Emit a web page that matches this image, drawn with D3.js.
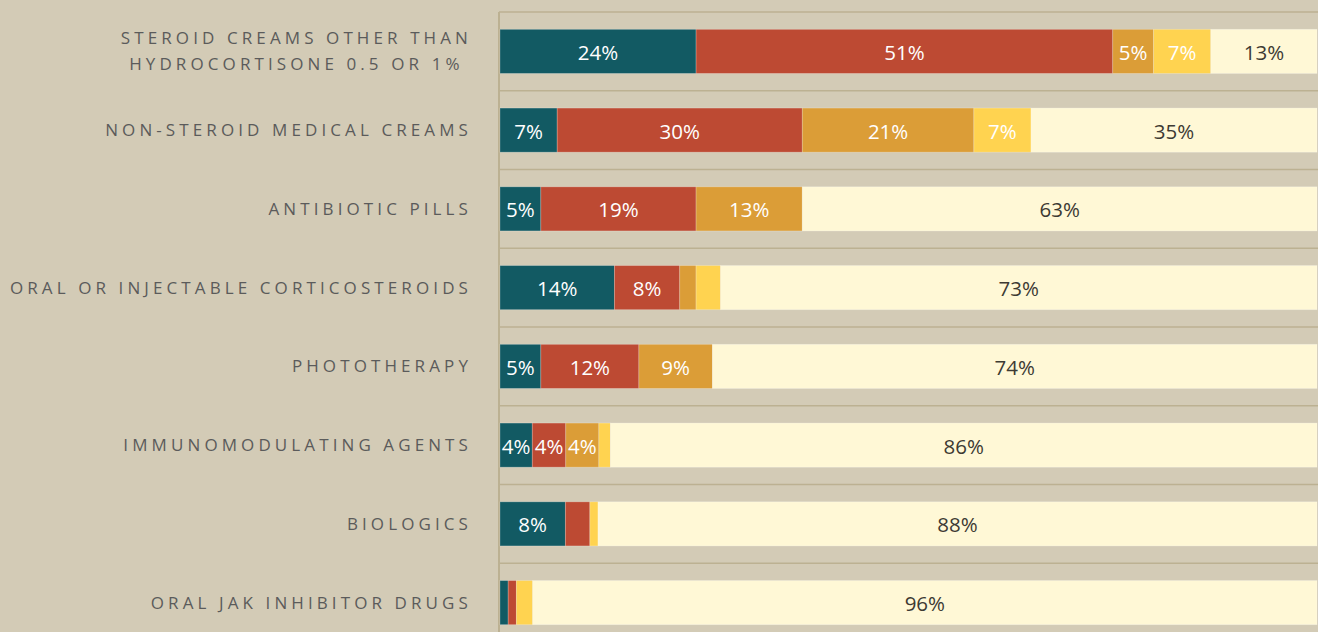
<!DOCTYPE html>
<html>
<head>
<meta charset="utf-8">
<script src="https://cdn.jsdelivr.net/npm/d3@7"></script>
<style>
  html, body { margin: 0; padding: 0; background: #D3CBB6; }
  svg { display: block; }
</style>
</head>
<body>
<svg id="chart" width="1318" height="632"></svg>
<script>
// Treatments (each row may wrap onto several lines)
const categories = [
  ["STEROID CREAMS OTHER THAN", "HYDROCORTISONE 0.5 OR 1%"],
  ["NON-STEROID MEDICAL CREAMS"],
  ["ANTIBIOTIC PILLS"],
  ["ORAL OR INJECTABLE CORTICOSTEROIDS"],
  ["PHOTOTHERAPY"],
  ["IMMUNOMODULATING AGENTS"],
  ["BIOLOGICS"],
  ["ORAL JAK INHIBITOR DRUGS"]
];

// Share of respondents per response group, in percent (one value per treatment)
const group1 = [24, 7, 5, 14, 5, 3.95, 8, 1];
const group2 = [51, 30, 19, 8, 12, 4.1, 3, 1];
const group3 = [5, 21, 13, 2, 9, 4.05, 0, 0];
const group4 = [7, 7, 0, 3, 0, 1.41, 1, 2];
const group5 = [13, 35, 63, 73, 74, 86.49, 88, 96];

const groups = [group1, group2, group3, group4, group5];
const groupColors = ["#125A63", "#BD4A33", "#DB9D37", "#FFD350", "#FFF8D6"];
const labelColors = ["#ffffff", "#ffffff", "#ffffff", "#ffffff", "#3d3a33"];

const svg = d3.select("#chart");
const W = 1318;
const plotLeft = 500, plotRight = 1317, plotTop = 12, plotBottom = 642;

const x = d3.scaleLinear().domain([0, 100]).range([plotLeft, plotRight]);
const y = d3.scaleBand()
  .domain(d3.range(categories.length))
  .range([plotTop, plotBottom])
  .paddingInner(0.44)
  .paddingOuter(0.22);

// Row separators
const boundaries = d3.range(categories.length + 1).map(i => plotTop + i * y.step());
svg.append("g")
  .selectAll("line")
  .data(boundaries)
  .join("line")
  .attr("x1", plotLeft - 1)
  .attr("x2", W)
  .attr("y1", d => d)
  .attr("y2", d => d)
  .attr("stroke", "#BCB192")
  .attr("stroke-width", 1.6);

// Left axis line
svg.append("line")
  .attr("x1", plotLeft - 1).attr("x2", plotLeft - 1)
  .attr("y1", plotTop).attr("y2", 632)
  .attr("stroke", "#BCB192")
  .attr("stroke-width", 2);

// Stack the groups per row
const rows = categories.map((c, i) => {
  let acc = 0;
  return groups.map((g, k) => {
    const seg = { row: i, k, v: g[i], x0: acc, x1: acc + g[i] };
    acc += g[i];
    return seg;
  });
});
const segments = rows.flat();

const bars = svg.append("g");
bars.selectAll("rect")
  .data(segments.filter(d => d.v > 0))
  .join("rect")
  .attr("x", d => x(d.x0))
  .attr("width", d => x(d.x1) - x(d.x0))
  .attr("y", d => y(d.row))
  .attr("height", y.bandwidth())
  .attr("fill", d => groupColors[d.k])
  .attr("stroke", "rgba(255,255,255,0.28)")
  .attr("stroke-width", 0.8);

// Value labels on segments wide enough to hold them
const fmt = v => d3.format(".0f")(v) + "%";
bars.selectAll("text")
  .data(segments.filter(d => d.v >= 3.9))
  .join("text")
  .attr("x", d => (x(d.x0) + x(d.x1)) / 2)
  .attr("y", d => y(d.row) + y.bandwidth() / 2)
  .attr("dy", "0.42em")
  .attr("text-anchor", "middle")
  .attr("font-family", "'Open Sans', sans-serif")
  .attr("font-size", 20.5)
  .attr("fill", d => labelColors[d.k])
  .text(d => fmt(d.v));

// Category labels
const catG = svg.append("g")
  .attr("font-family", "'Open Sans', sans-serif")
  .attr("font-size", 17)
  .attr("letter-spacing", "4.1px")
  .attr("fill", "#5b5b5b");

const labelRight = 472;
const lineH = 26;
categories.forEach((lines, i) => {
  const cy = y(i) + y.bandwidth() / 2;
  const t = catG.append("text").attr("text-anchor", "middle");
  const spans = lines.map((ln, j) =>
    t.append("tspan")
      .attr("y", cy + (j - (lines.length - 1) / 2) * lineH)
      .attr("dy", "0.36em")
      .text(ln)
  );
  const widest = d3.max(spans, s => s.node().getComputedTextLength());
  spans.forEach(s => s.attr("x", labelRight - widest / 2));
});
</script>
</body>
</html>
